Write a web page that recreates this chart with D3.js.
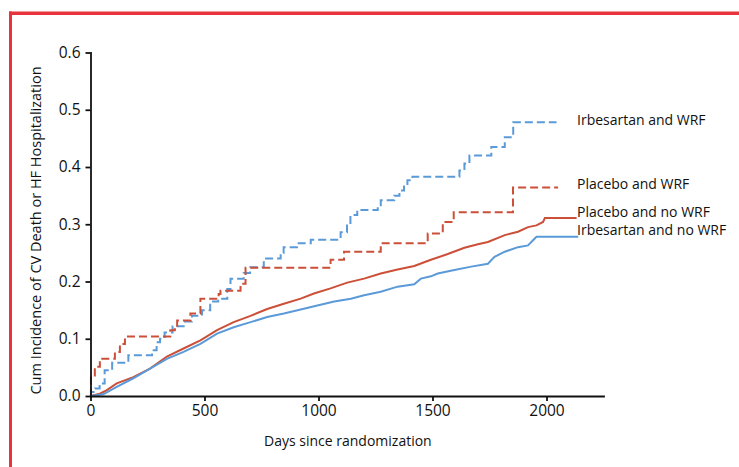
<!DOCTYPE html>
<html>
<head>
<meta charset="utf-8">
<style>
  body { margin: 0; background: #fff; }
  svg text { font-family: "Open Sans", "Noto Sans", sans-serif; fill: #111; }
  .axis path, .axis line { stroke: #111; stroke-width: 1.8px; }
  .axis text { font-size: 15.5px; }
</style>
</head>
<body>
<svg id="chart" width="739" height="467"></svg>
<script src="https://cdnjs.cloudflare.com/ajax/libs/d3/7.8.5/d3.min.js"></script>
<script>
// Kaplan-Meier style cumulative incidence: [day, value]
const irbesartanWrf = [
  [0, 0], [2, 0.007], [20, 0.013], [40, 0.022], [62, 0.045], [95, 0.058], [166, 0.071],
  [270, 0.08], [290, 0.094], [305, 0.1], [325, 0.111], [360, 0.122], [414, 0.13],
  [445, 0.14], [489, 0.15], [525, 0.165], [560, 0.17], [600, 0.187], [614, 0.205],
  [672, 0.215], [700, 0.225], [760, 0.24], [834, 0.25], [847, 0.26], [906, 0.267],
  [966, 0.273], [1097, 0.286], [1125, 0.298], [1140, 0.316], [1170, 0.325], [1260, 0.333],
  [1273, 0.342], [1332, 0.35], [1355, 0.359], [1375, 0.368], [1390, 0.377], [1412, 0.383],
  [1618, 0.394], [1640, 0.406], [1662, 0.42], [1758, 0.435], [1817, 0.452], [1854, 0.478],
  [2044, 0.478]
];
const placeboWrf = [
  [0, 0], [2, 0.036], [19, 0.051], [41, 0.065], [107, 0.077], [129, 0.091], [151, 0.104],
  [350, 0.115], [370, 0.119], [380, 0.132], [438, 0.144], [482, 0.17], [562, 0.178],
  [570, 0.184], [658, 0.196], [680, 0.224], [1053, 0.238], [1112, 0.252], [1273, 0.267],
  [1479, 0.284], [1545, 0.304], [1593, 0.321], [1853, 0.364], [2051, 0.364]
];
const placeboNoWrf = [
  [0, 0], [41, 0.004], [70, 0.01], [115, 0.022], [188, 0.033], [261, 0.048], [335, 0.069],
  [408, 0.083], [482, 0.097], [555, 0.115], [628, 0.129], [702, 0.14], [775, 0.152],
  [848, 0.161], [922, 0.17], [980, 0.179], [1053, 0.188], [1126, 0.198], [1200, 0.205],
  [1273, 0.214], [1347, 0.221], [1420, 0.227], [1493, 0.238], [1567, 0.248], [1640, 0.259],
  [1699, 0.265], [1743, 0.269], [1817, 0.281], [1875, 0.287], [1919, 0.295], [1956, 0.298],
  [1985, 0.304], [1993, 0.311], [2132, 0.311]
];
const irbesartanNoWrf = [
  [0, 0], [56, 0.003], [115, 0.016], [188, 0.031], [261, 0.048], [335, 0.065], [408, 0.077],
  [482, 0.091], [555, 0.109], [628, 0.12], [702, 0.129], [775, 0.138], [848, 0.144],
  [922, 0.151], [995, 0.158], [1069, 0.165], [1142, 0.17], [1200, 0.176], [1273, 0.182],
  [1347, 0.191], [1420, 0.195], [1449, 0.205], [1493, 0.209], [1523, 0.214], [1596, 0.22],
  [1670, 0.226], [1743, 0.231], [1772, 0.243], [1817, 0.252], [1875, 0.26], [1919, 0.263],
  [1941, 0.272], [1956, 0.278], [2139, 0.278]
];

const xTicks = [0, 500, 1000, 1500, 2000];
const yTicks = [0, 0.1, 0.2, 0.3, 0.4, 0.5, 0.6];

const series = [
  { name: "Irbesartan and WRF", data: irbesartanWrf, color: "#5b9ad8", dashed: true },
  { name: "Placebo and WRF", data: placeboWrf, color: "#cc4f38", dashed: true },
  { name: "Placebo and no WRF", data: placeboNoWrf, color: "#cc4f38", dashed: false },
  { name: "Irbesartan and no WRF", data: irbesartanNoWrf, color: "#5b9ad8", dashed: false }
];

const svg = d3.select("#chart");

// red frame (top and left edges visible)
svg.append("rect").attr("x", 9).attr("y", 11.5).attr("width", 740).attr("height", 3.5).attr("fill", "#e8333c");
svg.append("rect").attr("x", 9).attr("y", 11.5).attr("width", 3).attr("height", 460).attr("fill", "#e8333c");

const x = d3.scaleLinear().domain([0, 2250]).range([90.5, 603.5]);
const y = d3.scaleLinear().domain([0, 0.6]).range([396, 52.5]);

// curves
const line = d3.line()
  .x(d => x(d[0]))
  .y(d => y(d[1]));

series.forEach(s => {
  svg.append("path")
    .datum(s.data)
    .attr("fill", "none")
    .attr("stroke", s.color)
    .attr("stroke-width", 2)
    .attr("stroke-dasharray", s.dashed ? "8,4" : null)
    .attr("d", line.curve(s.dashed ? d3.curveStepAfter : d3.curveLinear));
});

svg.append("g")
  .attr("class", "axis")
  .attr("transform", `translate(0,${y(0)})`)
  .call(d3.axisBottom(x).tickValues(xTicks).tickSize(5).tickSizeOuter(0).tickPadding(4).tickFormat(d3.format("d")));

svg.append("g")
  .attr("class", "axis")
  .attr("transform", `translate(${x(0)},0)`)
  .call(d3.axisLeft(y).tickValues(yTicks).tickSize(5).tickSizeOuter(0).tickPadding(5).tickFormat(d3.format(".1f")));

svg.selectAll(".axis .domain").attr("stroke-linecap", "square");

// labels at line ends
const labelY = [121.7, 185.7, 213, 231];
series.forEach((s, i) => {
  svg.append("text")
    .attr("x", 577)
    .attr("y", labelY[i])
    .attr("dominant-baseline", "middle")
    .style("font-size", "14px")
    .text(s.name);
});

// axis titles
svg.append("text")
  .attr("x", 264)
  .attr("y", 442)
  .attr("dominant-baseline", "middle")
  .style("font-size", "14px")
  .text("Days since randomization");

svg.append("text")
  .attr("text-anchor", "middle")
  .attr("dominant-baseline", "middle")
  .attr("transform", `translate(37,230.5) rotate(-90)`)
  .style("font-size", "14.5px")
  .text("Cum Incidence of CV Death or HF Hospitalization");
</script>
</body>
</html>
